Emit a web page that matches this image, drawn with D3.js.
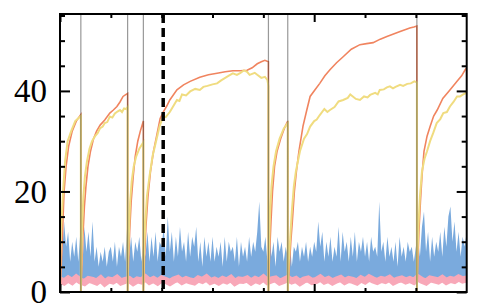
<!DOCTYPE html>
<html>
<head>
<meta charset="utf-8">
<script src="https://cdn.jsdelivr.net/npm/d3@7"></script>
<style>
  body { margin: 0; background: #fff; }
  svg { display: block; }
</style>
</head>
<body>
<div id="chart"></div>
<script>
// Data (x in steps, 0..800)
var resets = [41, 133, 164, 410, 448, 702];
var marker = 203;
var yMajor = [0, 20, 40];
var yMinor = [5, 10, 15, 25, 30, 35, 45, 50, 55];
var xMajor = [0, 500];
var xMinor = [100, 200, 300, 400, 600, 700];

var orange = [
  [0, 0], [2, 4], [5, 12], [8, 20], [12, 25], [17, 29], [24, 32], [32, 34], [41, 35.3],
  [41, 0], [43, 5], [45, 11], [48, 17], [51, 21], [55, 25], [60, 28], [66, 30.5], [72, 32], [79, 33.2],
  [88, 34.2], [98, 35.6], [105, 36.2], [112, 36.9], [118, 37.8], [124, 38.9], [130, 39.3], [133, 39.5],
  [133, 0], [135, 6], [137, 12], [140, 18], [144, 23], [148, 27], [153, 30], [158, 32], [164, 34],
  [164, 0], [166, 6], [169, 13], [173, 19], [178, 24], [184, 28], [190, 31], [197, 34.5], [203, 35.8],
  [210, 37], [216, 38.2], [230, 40.2], [243, 41.2], [256, 41.9], [275, 42.7], [292, 43.2], [309, 43.5],
  [325, 43.8], [340, 44], [355, 44], [368, 44.1], [378, 44.6], [388, 45.4], [396, 45.8], [403, 46.1], [410, 45.8],
  [410, 0], [412, 7], [415, 14], [418, 20], [422, 25], [427, 28], [434, 30.5], [441, 32.5], [448, 34],
  [448, 0], [451, 5], [454, 10], [457, 14], [461, 20], [465, 24], [470, 28], [478, 33], [485, 36], [492, 38.9],
  [502, 40.3], [511, 41.5], [521, 43], [531, 44.2], [544, 45.6], [557, 46.8], [573, 48.3], [590, 49.2],
  [603, 49.4], [616, 49.6], [630, 50.3], [643, 50.8], [656, 51.3], [669, 51.8], [680, 52.2], [688, 52.5],
  [696, 52.7], [702, 52.9],
  [702, 0], [704, 6], [706, 12], [709, 18], [712, 23], [716, 28], [722, 31], [728, 32.9], [735, 35],
  [742, 36.2], [753, 38.5], [767, 40.2], [781, 41.9], [790, 43], [797, 44.2], [800, 44.6]
];

var yellow = [
  [0, 0], [1, 8], [3, 14], [6, 20], [10, 26], [15, 30], [22, 32], [30, 34], [41, 35],
  [41, 0], [42.5, 8], [44, 14], [46, 19], [49, 23], [53, 26], [58, 28.5], [63, 30], [69, 31], [74, 31.6],
  [79, 32.6], [84, 32.9], [88, 33.6], [93, 33.8], [98, 34.9], [103, 34.7], [108, 35.5], [113, 35.9],
  [118, 36.2], [122, 35.8], [126, 36.5], [130, 36.4], [133, 36.8],
  [133, 0], [134, 7], [136, 13], [138, 18], [141, 22], [145, 25], [150, 27], [156, 28.5], [164, 29.8],
  [164, 0], [165, 7], [168, 14], [171, 19], [176, 23], [182, 27], [189, 30], [196, 33], [203, 35],
  [208, 34.8], [216, 35.8], [223, 37], [230, 38.2], [235, 38.0], [240, 39.3], [248, 39.1], [256, 39.9],
  [266, 40.4], [275, 40.2], [282, 40.8], [290, 41], [300, 41.3], [309, 41.5], [317, 42.1], [325, 42.6],
  [333, 43.1], [340, 43.5], [348, 43.2], [355, 43.6], [362, 44.1], [368, 43.8], [373, 43.2], [378, 43.4],
  [383, 43.6], [388, 43.2], [396, 42.6], [403, 42.8], [408, 42.2], [410, 40.9],
  [410, 0], [411, 8], [413, 15], [416, 21], [420, 25], [425, 28], [432, 30.5], [440, 32.5], [448, 33.6],
  [448, 0], [450, 6], [453, 11], [456, 16], [460, 21], [464, 24], [468, 26], [472, 28], [480, 30.5],
  [486, 31.4], [492, 32.9], [500, 34], [505, 34.3], [511, 35.2], [520, 36.4], [526, 35.8], [531, 36.2],
  [540, 36.8], [548, 37.9], [557, 38.2], [566, 38.6], [571, 39.3], [576, 38.9], [582, 38.4], [590, 38.2],
  [598, 38.9], [605, 38.7], [610, 39.2], [620, 39.6], [625, 39.3], [629, 40.2], [637, 40.3], [643, 40.7],
  [649, 40.9], [655, 40.5], [660, 40.8], [669, 41.2], [675, 41], [683, 41.4], [690, 41.5], [697, 41.9], [702, 41.7],
  [702, 0], [703, 7], [705, 13], [708, 19], [712, 24], [717, 26.5], [722, 28], [728, 30], [734, 31.6],
  [741, 33.6], [748, 34.4], [754, 35.6], [761, 35.8], [767, 36.9], [774, 37.8], [781, 38.9], [787, 38.9],
  [793, 39.3], [797, 39.5], [800, 40]
];

// evenly sampled noisy series
var blue = [
  11, 7, 14, 9, 12, 6, 10, 7, 11, 6, 12, 5, 13, 8, 12, 7, 14, 6, 9, 5, 8, 6, 9, 5, 8,
  9, 6, 10, 5, 9, 7, 10, 6, 13, 7, 11, 6, 10, 8, 11, 6, 10, 7, 12, 6, 11, 7, 12, 6, 10,
  9, 13, 7, 15, 8, 12, 6, 11, 7, 13, 8, 10, 6, 12, 7, 11, 9, 13, 6, 10, 5, 11, 7, 10, 6,
  11, 6, 9, 7, 10, 5, 11, 6, 10, 8, 9, 6, 11, 5, 10, 7, 9, 6, 11, 7, 10, 8, 12, 18, 9,
  8, 11, 6, 12, 7, 10, 5, 11, 8, 10, 6, 9, 7, 10, 5, 9, 8, 10, 6, 9, 7, 10, 6, 9, 7,
  10, 8, 14, 9, 12, 6, 10, 7, 11, 6, 9, 7, 13, 6, 12, 8, 10, 6, 11, 7, 12, 6, 10, 8, 11,
  7, 10, 6, 11, 8, 9, 7, 18, 8, 10, 6, 11, 7, 9, 6, 10, 5, 11, 7, 9, 6, 10, 8, 9, 6,
  9, 11, 7, 13, 16, 8, 12, 6, 11, 7, 10, 8, 12, 7, 13, 9, 15, 17, 10, 14, 8, 12, 7, 11, 9, 12
];
var pink = [
  2.4, 2.0, 2.6, 2.1, 2.8, 2.2, 1.9, 2.5, 2.3, 2.0, 2.6, 1.8, 2.4, 2.2, 2.7, 2.0, 2.3, 2.5, 1.9, 2.4,
  2.2, 2.8, 2.1, 2.5, 2.0, 2.6, 2.3, 1.9, 2.4, 2.7, 2.1, 2.5, 2.2, 2.0, 2.6, 2.3, 2.8, 2.1, 2.4, 2.0,
  2.5, 2.2, 2.7, 1.9, 2.4, 2.3, 2.6, 2.0, 2.5, 2.2, 2.8, 2.1, 2.4, 2.6, 2.0, 2.3, 2.7, 2.2, 2.5, 1.9,
  2.4, 2.6, 2.1, 2.3, 2.8, 2.2, 2.5, 2.0, 2.4, 2.7, 2.1, 2.5, 2.3, 2.0, 2.6, 2.2, 2.8, 2.4, 2.1, 2.5,
  2.3, 2.7, 2.0, 2.4, 2.6, 2.2, 2.5, 2.1, 2.8, 2.3, 2.0, 2.6, 2.4, 2.2, 2.7, 2.1, 2.5, 2.3, 2.8, 2.4, 2.6
];

// Create SVG Element
var chart_width = 479;
var chart_height = 304;
var margin = { top: 14, right: 12.3, bottom: 12, left: 60 };
var svg = d3.select('#chart')
  .append('svg')
  .attr('width', chart_width)
  .attr('height', chart_height);

// Create scales
var xScale = d3.scaleLinear()
  .domain([0, 800])
  .range([margin.left, chart_width - margin.right]);

var yScale = d3.scaleLinear()
  .domain([0, 55.3])
  .range([chart_height - margin.bottom, margin.top]);

svg.append('clipPath')
  .attr('id', 'plot')
  .append('rect')
  .attr('x', margin.left)
  .attr('y', margin.top)
  .attr('width', xScale.range()[1] - margin.left)
  .attr('height', yScale.range()[0] - margin.top);

var g = svg.append('g').attr('clip-path', 'url(#plot)');

var step = function (arr) { return 800 / (arr.length - 1); };

// blue noisy series, drawn as an area above the pink band
g.append('path')
  .datum(blue)
  .attr('d', d3.area()
    .x(function (d, i) { return xScale(i * step(blue)); })
    .y0(yScale(2))
    .y1(function (d) { return yScale(d); }))
  .attr('fill', '#7aaadd');

g.append('path')
  .datum(pink)
  .attr('d', d3.line()
    .x(function (d, i) { return xScale(i * step(pink)); })
    .y(function (d) { return yScale(d); }))
  .attr('fill', 'none')
  .attr('stroke', '#f8a8b8')
  .attr('stroke-width', 7);

var line = d3.line()
  .x(function (d) { return xScale(d[0]); })
  .y(function (d) { return yScale(d[1]); });

g.append('path')
  .datum(orange)
  .attr('d', line)
  .attr('fill', 'none')
  .attr('stroke', '#f0845f')
  .attr('stroke-width', 1.6);

g.append('path')
  .datum(yellow)
  .attr('d', line)
  .attr('fill', 'none')
  .attr('stroke', '#f0dc80')
  .attr('stroke-width', 2);

// reset lines
g.selectAll('.reset')
  .data(resets)
  .enter()
  .append('line')
  .attr('x1', function (d) { return xScale(d); })
  .attr('x2', function (d) { return xScale(d); })
  .attr('y1', yScale.range()[0])
  .attr('y2', margin.top)
  .attr('stroke', '#333')
  .attr('stroke-opacity', 0.5)
  .attr('stroke-width', 1.2);

g.append('line')
  .attr('x1', xScale(marker))
  .attr('x2', xScale(marker))
  .attr('y1', margin.top)
  .attr('y2', yScale.range()[0])
  .attr('stroke', '#000')
  .attr('stroke-width', 3.5)
  .attr('stroke-dasharray', '9,5');

// Axes, ticks pointing inward
var fmt = function () { return ''; };
function addAxis(axis, tx, ty, cls) {
  var a = svg.append('g')
    .attr('transform', 'translate(' + tx + ',' + ty + ')')
    .call(axis);
  a.select('.domain').remove();
  a.selectAll('line').attr('stroke', '#000').attr('stroke-width', 2);
  return a;
}

var x0 = margin.left, x1 = xScale.range()[1];
var y0 = yScale.range()[0], y1 = margin.top;

addAxis(d3.axisLeft(yScale).tickValues(yMinor).tickSize(-5).tickFormat(fmt), x0, 0);
addAxis(d3.axisRight(yScale).tickValues(yMinor).tickSize(-5).tickFormat(fmt), x1, 0);
addAxis(d3.axisRight(yScale).tickValues(yMajor).tickSize(-10).tickFormat(fmt), x1, 0);
addAxis(d3.axisBottom(xScale).tickValues(xMinor).tickSize(-4).tickFormat(fmt), 0, y0);
addAxis(d3.axisBottom(xScale).tickValues(xMajor).tickSize(-8).tickFormat(fmt), 0, y0);
addAxis(d3.axisTop(xScale).tickValues(xMinor).tickSize(-4).tickFormat(fmt), 0, y1);
addAxis(d3.axisTop(xScale).tickValues(xMajor).tickSize(-8).tickFormat(fmt), 0, y1);

var left = addAxis(d3.axisLeft(yScale).tickValues(yMajor).tickSize(-10).tickPadding(13), x0, 0);
left.selectAll('text')
  .attr('font-family', '"Liberation Serif", "DejaVu Serif", serif')
  .attr('font-size', 33)
  .attr('fill', '#000');

// frame
svg.append('rect')
  .attr('x', x0)
  .attr('y', y1)
  .attr('width', x1 - x0)
  .attr('height', y0 - y1)
  .attr('fill', 'none')
  .attr('stroke', '#000')
  .attr('stroke-width', 2);
</script>
</body>
</html>
